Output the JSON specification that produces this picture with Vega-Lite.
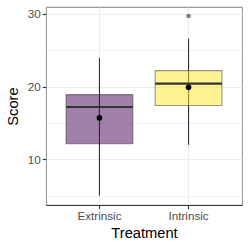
{
  "$schema": "https://vega.github.io/schema/vega-lite/v6.json",
  "autosize": "none",
  "width": 196,
  "height": 198,
  "padding": {"left": 46, "top": 7, "right": 8, "bottom": 45},
  "background": "white",
  "config": {
    "font": "Liberation Sans",
    "view": {"stroke": "#9a9a9a", "strokeWidth": 1.1},
    "axis": {"labelFont": "Liberation Sans", "titleFont": "Liberation Sans"}
  },
  "data": {
    "values": [
      {"Treatment": "Extrinsic", "lower": 5.0, "q1": 12.15, "median": 17.2, "q3": 18.9, "upper": 23.95, "mean": 15.7},
      {"Treatment": "Intrinsic", "lower": 12.0, "q1": 17.4, "median": 20.4, "q3": 22.2, "upper": 26.6, "mean": 19.9}
    ]
  },
  "resolve": {"axis": {"y": "independent"}},
  "layer": [
    {
      "layer": [
        {
          "mark": {"type": "rule", "color": "#333333", "strokeWidth": 1.1},
          "encoding": {
            "x": {
              "field": "Treatment",
              "type": "nominal",
              "scale": {"domain": ["Extrinsic", "Intrinsic"], "paddingInner": 0, "paddingOuter": 0.1},
              "axis": {
                "title": "Treatment",
                "titleFontSize": 14.7,
                "titleFontWeight": "normal",
                "titleColor": "black",
                "titlePadding": 3,
                "labelFontSize": 11.7,
                "labelColor": "#4d4d4d",
                "labelAngle": 0,
                "labelPadding": 2,
                "tickColor": "#333333",
                "tickSize": 3.7,
                "tickWidth": 1.1,
                "domainColor": "#333333",
                "domainWidth": 1.1,
                "grid": true,
                "bandPosition": 0.5,
                "gridColor": "#ebebeb",
                "gridWidth": 1.1
              }
            },
            "y": {
              "field": "lower",
              "type": "quantitative",
              "scale": {"domain": [3.73, 30.94], "nice": false, "zero": false},
              "axis": {
                "orient": "left",
                "title": "Score",
                "titleFontSize": 14.7,
                "titleFontWeight": "normal",
                "titleColor": "black",
                "titlePadding": 7,
                "labelFontSize": 11.7,
                "labelColor": "#4d4d4d",
                "labelPadding": 2,
                "values": [10, 20, 30],
                "tickColor": "#333333",
                "tickSize": 3.7,
                "tickWidth": 1.1,
                "domain": false,
                "grid": true,
                "gridColor": "#ebebeb",
                "gridWidth": 1.1
              }
            },
            "y2": {"field": "upper"}
          }
        }
      ]
    },
    {
      "mark": {"type": "bar", "width": {"band": 0.75}, "fillOpacity": 0.5, "stroke": "#333333", "strokeOpacity": 0.5, "strokeWidth": 1.1},
      "encoding": {
        "x": {"field": "Treatment", "type": "nominal"},
        "y": {
          "field": "q1",
          "type": "quantitative",
          "axis": {
            "orient": "right",
            "values": [5, 15, 25],
            "title": null,
            "labels": false,
            "ticks": false,
            "domain": false,
            "grid": true,
            "gridColor": "#ebebeb",
            "gridWidth": 0.6
          }
        },
        "y2": {"field": "q3"},
        "fill": {
          "field": "Treatment",
          "type": "nominal",
          "scale": {"domain": ["Extrinsic", "Intrinsic"], "range": ["#440154", "#FDE725"]},
          "legend": null
        }
      }
    },
    {
      "mark": {"type": "tick", "color": "#333333", "size": 66.8, "thickness": 2.2, "opacity": 1},
      "encoding": {
        "x": {"field": "Treatment", "type": "nominal"},
        "y": {"field": "median", "type": "quantitative", "axis": null}
      }
    },
    {
      "mark": {"type": "point", "filled": true, "color": "black", "size": 32, "opacity": 1},
      "encoding": {
        "x": {"field": "Treatment", "type": "nominal"},
        "y": {"field": "mean", "type": "quantitative", "axis": null}
      }
    },
    {
      "data": {"values": [{"Treatment": "Intrinsic", "Score": 29.7}]},
      "mark": {"type": "point", "filled": true, "color": "#808080", "size": 22, "opacity": 1},
      "encoding": {
        "x": {"field": "Treatment", "type": "nominal"},
        "y": {"field": "Score", "type": "quantitative", "axis": null}
      }
    }
  ]
}
